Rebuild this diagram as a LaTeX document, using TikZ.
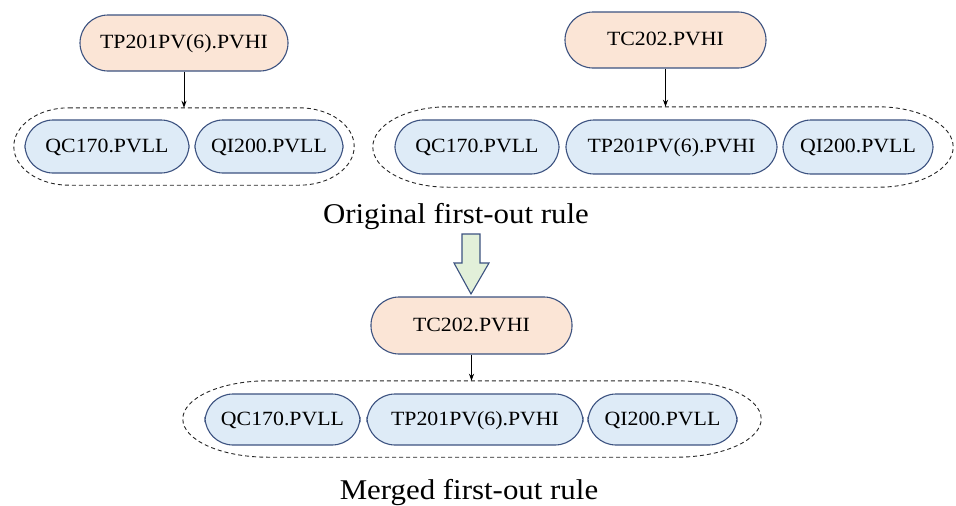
\documentclass[tikz,border=0pt]{standalone}
\usepackage{fontspec}
\setmainfont{Liberation Serif}[FakeStretch=1.08]
\usetikzlibrary{arrows.meta,calc}
\definecolor{bord}{RGB}{60,82,128}
\definecolor{orangefill}{RGB}{251,229,214}
\definecolor{bluefill}{RGB}{222,235,247}
\definecolor{greenfill}{RGB}{226,240,217}
% oval outline around a (rectangular, undrawn) group node: #1 name, #2 end x-radius, #3 end y-radius
\newcommand{\groupoutline}[3]{%
  \draw[groupline] ($(#1.north west)+(#2,0)$) -- ($(#1.north east)+(-#2,0)$)
    .. controls +(0.5523*#2,0) and +(0,-0.5523*#3) .. (#1.east)
    .. controls +(0,0.5523*#3) and +(0.5523*#2,0) .. ($(#1.south east)+(-#2,0)$)
    -- ($(#1.south west)+(#2,0)$)
    .. controls +(-0.5523*#2,0) and +(0,0.5523*#3) .. (#1.west)
    .. controls +(0,-0.5523*#3) and +(-0.5523*#2,0) .. ($(#1.north west)+(#2,0)$) -- cycle;}
\begin{document}
\begin{tikzpicture}[x=1pt,y=-1pt,
  pill/.style={draw=bord, line width=1.1pt, rounded corners=28pt, inner sep=0pt,
    font=\fontsize{20.2}{22}\selectfont, text height=14pt, text depth=3pt},
  alarm/.style={pill, fill=orangefill, minimum height=56pt},
  item/.style={pill, fill=bluefill, minimum height=53pt},
  group/.style={rectangle, inner sep=0pt},
  groupline/.style={draw=black!85, dash pattern=on 4pt off 3pt, line width=0.9pt},
  link/.style={-{Stealth[length=7pt,width=5pt]}, line width=1pt},
  caption/.style={font=\fontsize{28.6}{32}\selectfont, anchor=base, inner sep=0pt},
  blockarrow/.style={draw=bord, fill=greenfill, line width=1.1pt, line join=miter}
]
\useasboundingbox (0,0) rectangle (956,506);

% ---- left original rule
\node[group, minimum width=340pt, minimum height=77pt] (g1) at (184,146.5) {};
\groupoutline{g1}{55}{38.5}
\node[alarm, minimum width=208pt] (a1) at (184,43) {TP201PV(6).PVHI};
\node[item, minimum width=164pt] (i11) at (107,146.5) {QC170.PVLL};
\node[item, minimum width=148pt] (i12) at (269,146.5) {QI200.PVLL};
\draw[link] (a1.south) -- (g1.north);

% ---- right original rule
\node[group, minimum width=580pt, minimum height=80pt] (g2) at (663,147) {};
\groupoutline{g2}{75}{40}
\node[alarm, minimum width=201pt] (a2) at (665.5,40) {TC202.PVHI};
\node[item, minimum width=164pt, minimum height=54pt] (i21) at (477,147) {QC170.PVLL};
\node[item, minimum width=211pt, minimum height=54pt] (i22) at (671.5,147) {TP201PV(6).PVHI};
\node[item, minimum width=150pt, minimum height=54pt] (i23) at (858,147) {QI200.PVLL};
\draw[link] (a2.south) -- (a2.south |- g2.north);

\node[caption] (l1) at (456,223) {Original first-out rule};

% ---- block arrow
\draw[blockarrow] (462,234) -- (480,234) -- (480,263) -- (489,263) -- (471,294)
  -- (454,263) -- (462,263) -- cycle;

% ---- merged rule
\node[group, minimum width=578pt, minimum height=76pt] (g3) at (472,419) {};
\groupoutline{g3}{85}{38}
\node[alarm, minimum width=201pt, minimum height=57pt] (a3) at (471.5,325.5) {TC202.PVHI};
\node[item, minimum width=155pt, minimum height=51pt] (i31) at (282.5,419.5) {QC170.PVLL};
\node[item, minimum width=216pt, minimum height=51pt] (i32) at (475,419.5) {TP201PV(6).PVHI};
\node[item, minimum width=149pt, minimum height=51pt] (i33) at (662.5,419.5) {QI200.PVLL};
\draw[link] (a3.south) -- (a3.south |- g3.north);

\node[caption] (l2) at (469,499) {Merged first-out rule};
\end{tikzpicture}
\end{document}
